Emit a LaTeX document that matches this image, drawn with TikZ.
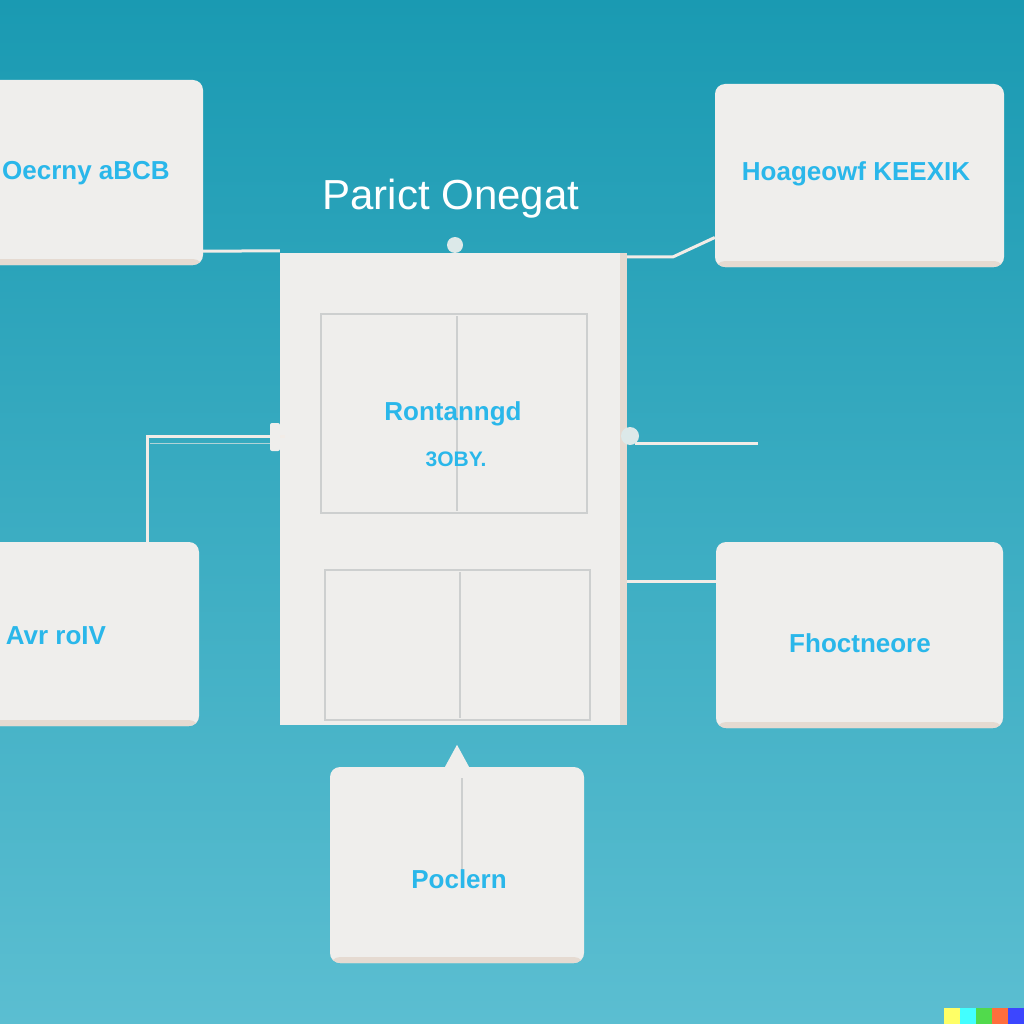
\documentclass[tikz,border=0pt]{standalone}
\usepackage{fontspec}
\setmainfont{Liberation Sans}
\usetikzlibrary{calc}
\definecolor{bgtop}{HTML}{1A9AB2}
\definecolor{bgbot}{HTML}{5BBED1}
\definecolor{boxfill}{HTML}{EFEEEC}
\definecolor{boxshade}{HTML}{E5DAD1}
\definecolor{txtblue}{HTML}{2AB7EA}
\definecolor{wire}{HTML}{F2ECE7}
\definecolor{divline}{HTML}{CDCFCF}
\definecolor{knob}{HTML}{DCE9E9}
\definecolor{wmyellow}{HTML}{FFFF66}
\definecolor{wmcyan}{HTML}{42FFFF}
\definecolor{wmgreen}{HTML}{51DA4C}
\definecolor{wmorange}{HTML}{FF6E3C}
\definecolor{wmblue}{HTML}{3C46FF}
\tikzset{
  box/.style={fill=boxfill, rounded corners=10pt, inner sep=0pt,
    path picture={\fill[boxshade] ([yshift=6pt]path picture bounding box.south west) rectangle (path picture bounding box.south east);}},
  panelbox/.style={fill=boxfill, inner sep=0pt,
    path picture={\fill[boxshade] ([xshift=-7pt]path picture bounding box.north east) rectangle (path picture bounding box.south east);}},
  inner/.style={fill=boxfill, draw=divline, line width=2.5pt, inner sep=0pt},
  lbl/.style={text=txtblue, font=\fontsize{26}{30}\selectfont\bfseries, inner sep=0pt},
  wireline/.style={draw=wire, line width=3pt},
}
\begin{document}
\begin{tikzpicture}[x=1pt,y=-1pt]
\shade[top color=bgtop, bottom color=bgbot] (0,0) rectangle (1024,1024);
\useasboundingbox (0,0) rectangle (1024,1024);

% boxes
\node[box, minimum width=263, minimum height=185] (tl) at (71.5,172.5) {};
\node[box, minimum width=289, minimum height=183] (tr) at (859.5,175.5) {};
\node[box, minimum width=259, minimum height=184] (bl) at (69.5,634) {};
\node[box, minimum width=287, minimum height=186] (br) at (859.5,635) {};
\node[box, minimum width=254, minimum height=196] (bm) at (457,865) {};
\node[panelbox, minimum width=347, minimum height=472] (panel) at (453.5,489) {};

\coordinate (rmEnd) at (758,443);
\coordinate (lmBend) at (147,436);

% connectors
\draw[wireline] ([yshift=14pt]tl.south east) -- ([yshift=2pt]panel.north west);
\draw[wireline] ([yshift=-4pt]panel.north east) -- ++(46,0) -- ([yshift=-62pt]tr.west);
\draw[wireline] ([yshift=-92pt]panel.east) -- ([yshift=-92pt]panel.east -| br.west);
\draw[wireline] ([xshift=5pt,yshift=53pt]panel.west) -- (lmBend) -- (lmBend |- bl.north);
\draw[wire!70!bgtop, line width=1pt] (150,443) -- (270,443);
\draw[wireline] ([xshift=8pt,yshift=46pt]panel.east) -- (rmEnd);

% knobs
\node[fill=knob, circle, minimum size=18pt, inner sep=0pt] (rknob) at (630,436) {};
\node[fill=boxfill, rounded corners=2pt, minimum width=10pt, minimum height=28pt, inner sep=0pt] (lknob) at (275,437) {};
\node[fill=knob, circle, minimum size=16pt, inner sep=0pt] (tknob) at (455,245) {};
\fill[boxfill] ([xshift=-12pt]bm.north) -- ([yshift=22pt]bm.north) -- ([xshift=12pt]bm.north) -- cycle;

% inner panels of central unit
\node[inner, minimum width=266, minimum height=199] (upin) at (454,413.5) {};
\draw[divline, line width=2pt] (457,316) -- (457,511);
\node[inner, minimum width=265, minimum height=150] (loin) at (457.5,645) {};
\draw[divline, line width=2pt] (460,572) -- (460,718);
\draw[divline, line width=1.5pt] (462,778) -- (462,870);

% texts
\node[text=white, font=\fontsize{42}{46}\selectfont, inner sep=0pt] (title) at (451,199) {Parict Onegat};
\node[lbl] (tltxt) at (86,173) {Oecrny aBCB};
\node[lbl] (trtxt) at (856,174) {Hoageowf KEEXIK};
\node[lbl] (bltxt) at (56,636) {Avr roIV};
\node[lbl] (brtxt) at (860,643) {Fhoctneore};
\node[lbl] (bmtxt) at (459,879) {Poclern};
\node[lbl] (uptxt1) at (453,414) {Rontanngd};
\node[lbl, font=\fontsize{21}{26}\selectfont\bfseries] (uptxt2) at (456,459) {3OBY.};

% corner colour squares
\fill[wmyellow] (944,1008) rectangle (960,1024);
\fill[wmcyan] (960,1008) rectangle (976,1024);
\fill[wmgreen] (976,1008) rectangle (992,1024);
\fill[wmorange] (992,1008) rectangle (1008,1024);
\fill[wmblue] (1008,1008) rectangle (1024,1024);
\end{tikzpicture}
\end{document}
